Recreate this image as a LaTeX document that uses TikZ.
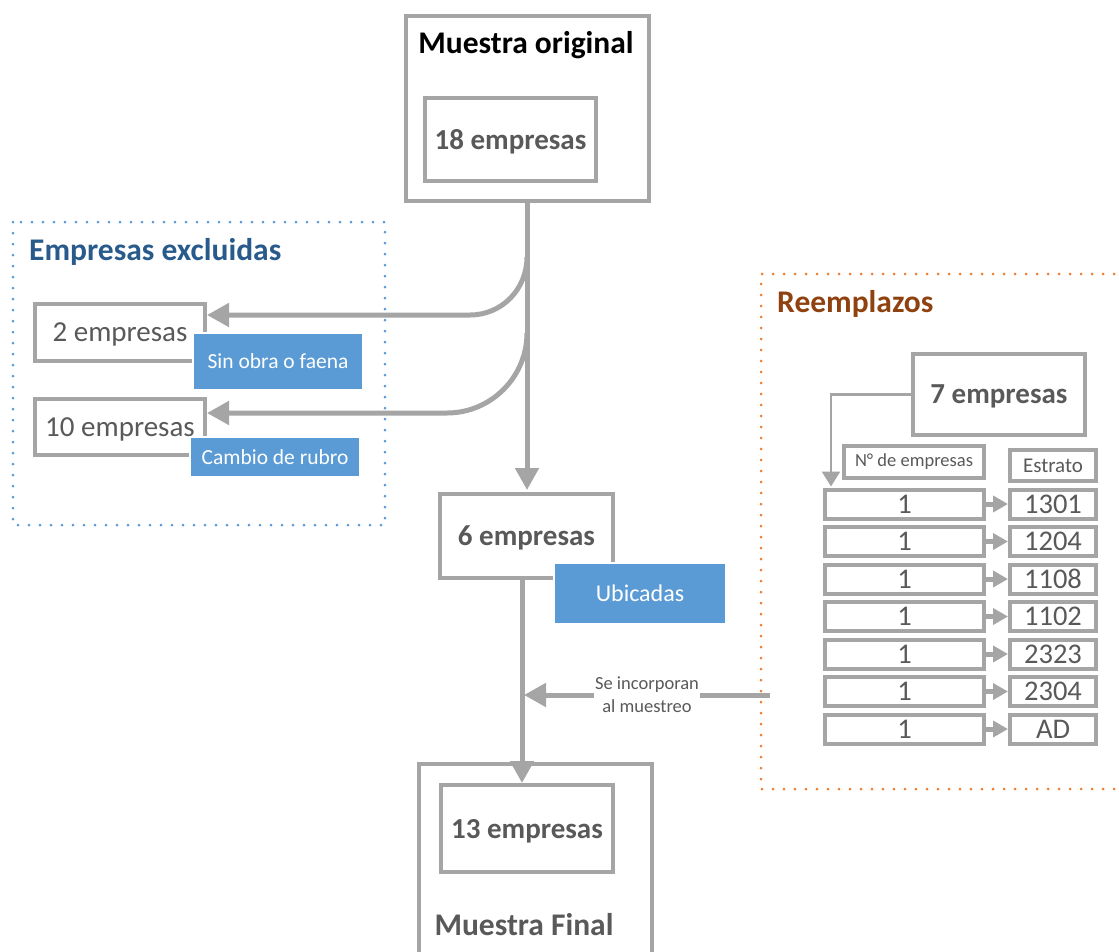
\documentclass[tikz,border=0pt]{standalone}
\usepackage{fontspec}
\setmainfont{Carlito}
\usetikzlibrary{arrows.meta,calc}
\definecolor{lg}{HTML}{A5A5A5}
\definecolor{tg}{HTML}{595959}
\definecolor{lblue}{HTML}{5B9BD5}
\definecolor{tblue}{HTML}{285A8C}
\definecolor{tbrown}{HTML}{8F420F}
\definecolor{dorange}{HTML}{ED7D31}
\begin{document}
\begin{tikzpicture}[x=1pt,y=-1pt,
  box/.style={draw=lg, line width=4pt, inner sep=0pt, fill=white, text=tg},
  bigb/.style={font=\fontsize{29}{32}\selectfont\bfseries, text depth=0pt},
  bigr/.style={font=\fontsize{29}{32}\selectfont, text depth=0pt},
  titlef/.style={font=\fontsize{31.5}{34}\selectfont\bfseries, inner sep=0pt},
  lbl/.style={fill=lblue, draw=white, line width=1.2pt, text=white, inner sep=0pt, font=\fontsize{21.5}{24}\selectfont},
  conn/.style={draw=lg, line width=5pt},
  bighead/.style={-{Triangle[width=23pt,length=22pt]}},
  rowl/.style={box, minimum width=159pt, minimum height=29pt, font=\fontsize{28.5}{30}\selectfont},
  rowr/.style={box, minimum width=86pt, minimum height=29pt, font=\fontsize{28.5}{30}\selectfont},
  dotb/.style={draw=lblue, line width=3pt, line cap=round, dash pattern=on 0pt off 11pt},
  doto/.style={draw=dorange, line width=3pt, line cap=round, dash pattern=on 0pt off 11pt}
]
\useasboundingbox (0,0) rectangle (1119,951);

% dotted group frames
\draw[dotb] (13,222) rectangle (385,525);
\draw[doto] (1125,274) -- (761,274) -- (761,789) -- (1125,789);
\node[titlef, text=tblue, anchor=west] (excl) at (29,252) {Empresas excluidas};
\node[titlef, text=tbrown, anchor=west] (reem) at (777,304) {Reemplazos};

% Muestra original
\node[box, minimum width=243pt, minimum height=185pt] (mo) at (527.5,108.5) {};
\node[titlef, text=black] (mot) at (526,45) {Muestra original};
\node[box, bigb, minimum width=171pt, minimum height=83pt] (e18) at (510.5,139.5) {18 empresas};

% excluded boxes
\node[box, bigr, minimum width=170pt, minimum height=57pt] (two) at (120,332.5) {2 empresas};
\node[lbl, minimum width=170pt, minimum height=57pt] (sin) at (278,361.5) {Sin obra o faena};
\node[box, bigr, minimum width=170pt, minimum height=56pt] (ten) at (120,427) {10 empresas};
\node[lbl, minimum width=170pt, minimum height=40pt] (cam) at (275,457) {Cambio de rubro};

% 6 empresas
\node[box, bigb, minimum width=173pt, minimum height=84pt] (six) at (526.5,536) {6 empresas};
\node[lbl, minimum width=172pt, minimum height=61pt, font=\fontsize{24}{26}\selectfont] (ubi) at (640,593.5) {Ubicadas};

% Muestra final
\draw[draw=lg, line width=4pt] (419,960) -- (419,764) -- (652,764) -- (652,960);
\node[box, bigb, minimum width=172pt, minimum height=87pt] (t13) at (527,828.5) {13 empresas};
\node[titlef, text=tg] (mft) at (524,925) {Muestra Final};

% connectors main
\draw[conn, bighead] (mo.south -| 527,0) -- (527,490);
\coordinate (b1) at (527,257);
\coordinate (b2) at (527,333);
\draw[conn, bighead] (b1) .. controls (527,289) and (502,315) .. (470,315) -- ($(two.east)+(0,-17.5)$);
\draw[conn, bighead] (b2) .. controls (527,377) and (491,413) .. (447,413) -- ($(ten.east)+(0,-14)$);
\draw[conn, bighead] ($(six.south)+(-4.5,-2)$) -- ($(t13.north)+(-5,0)$);
\coordinate (inc) at (770,695);
\coordinate (join) at (524,695);
\draw[conn, bighead] (inc) -- node[fill=white, inner sep=1pt, text=tg, align=center, font=\fontsize{18.5}{23}\selectfont] (inclbl) {Se incorporan\\al muestreo} (join);

% Reemplazos
\node[box, bigb, minimum width=172pt, minimum height=81pt] (s7) at (999,394.5) {7 empresas};
\node[box, minimum width=140pt, minimum height=32pt, font=\fontsize{18.5}{20}\selectfont] (hn) at (914,462) {N° de empresas};
\node[box, minimum width=86pt, minimum height=31pt, font=\fontsize{21}{24}\selectfont] (he) at (1053,465.5) {Estrato};

\foreach \i/\e in {0/1301,1/1204,2/1108,3/1102,4/2323,5/2304,6/AD} {
  \node[rowl] (l\i) at (904.5,{504+37.5*\i}) {1};
  \node[rowr] (r\i) at (1053,{504+37.5*\i}) {\e};
  \draw[draw=lg, line width=5pt, -{Triangle[width=16pt,length=15pt]}] (l\i.east) -- (r\i.west);
}
\draw[draw=lg, line width=2.5pt, -{Triangle[width=18pt,length=15pt]}] (s7.west) -| ($(l0.north west)+(8,-1)$);
\end{tikzpicture}
\end{document}
